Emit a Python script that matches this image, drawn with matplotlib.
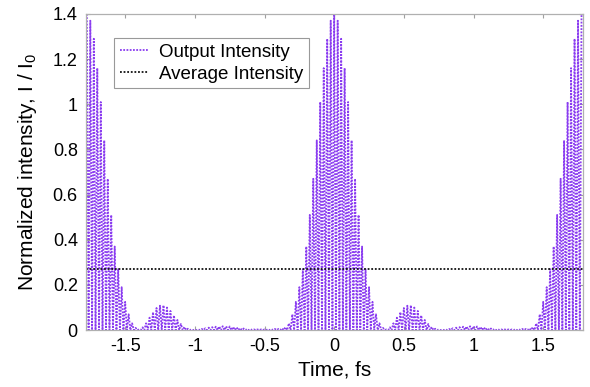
import matplotlib
matplotlib.use("Agg")
import matplotlib.pyplot as plt
import matplotlib.ticker as ticker
import numpy as np

plt.rcParams['font.family'] = ['Liberation Sans', 'DejaVu Sans']
plt.rcParams['mathtext.fontset'] = 'custom'
plt.rcParams['mathtext.rm'] = 'Liberation Sans'

### Data: peak height of each optical cycle (step 0.025 fs)
# from -1.775 fs up to 0 fs
intensity_left = [1.40, 1.37, 1.29, 1.16, 1.01, 0.84, 0.67, 0.51, 0.37, 0.27,
                  0.19, 0.125, 0.07, 0.03, 0.01, 0.003, 0.012, 0.03, 0.055, 0.08,
                  0.098, 0.108, 0.11, 0.10, 0.085, 0.065, 0.045, 0.027, 0.014, 0.006,
                  0.003, 0.002, 0.003, 0.005, 0.008, 0.011, 0.013, 0.015, 0.016, 0.017,
                  0.017, 0.016, 0.014, 0.012, 0.009, 0.007, 0.005, 0.004, 0.003, 0.003,
                  0.003, 0.003, 0.004, 0.004, 0.005, 0.005, 0.008, 0.013, 0.03, 0.07,
                  0.125, 0.19, 0.27, 0.37, 0.51, 0.67, 0.84, 1.01, 1.16, 1.29,
                  1.37, 1.40]
# from 0.025 fs up to 1.775 fs
intensity_right = [1.37, 1.29, 1.16, 1.01, 0.84, 0.67, 0.51, 0.37, 0.27,
                   0.19, 0.125, 0.07, 0.03, 0.01, 0.003, 0.012, 0.03, 0.055, 0.08,
                   0.098, 0.108, 0.11, 0.10, 0.085, 0.065, 0.045, 0.027, 0.014, 0.006,
                   0.003, 0.002, 0.003, 0.005, 0.008, 0.011, 0.013, 0.015, 0.016, 0.017,
                   0.017, 0.016, 0.014, 0.012, 0.009, 0.007, 0.005, 0.004, 0.003, 0.003,
                   0.003, 0.003, 0.004, 0.004, 0.005, 0.005, 0.008, 0.013, 0.03, 0.07,
                   0.125, 0.19, 0.27, 0.37, 0.51, 0.67, 0.84, 1.01, 1.16, 1.29,
                   1.37, 1.40]
averageIntensity = 0.27
xTicks = [-1.5, -1, -0.5, 0, 0.5, 1, 1.5]
yTicks = [0, 0.2, 0.4, 0.6, 0.8, 1, 1.2, 1.4]

peaks = np.array(intensity_left + intensity_right)
time = np.linspace(-1.775, 1.775, len(peaks))
halfCycle = (time[1] - time[0]) / 2

# each optical cycle goes from its peak down to zero
t = np.column_stack([time, time + halfCycle]).ravel()[:-1]
I = np.column_stack([peaks, np.zeros_like(peaks)]).ravel()[:-1]

fig = plt.figure(figsize=(5.90, 3.87), dpi=100)
ax = fig.add_axes([0.146, 0.147, 0.842, 0.817])

purple = '#8a3cf0'
ax.plot(t, I, color=purple, linestyle=(0, (1, 0.8)), linewidth=1.3, label='Output Intensity')
ax.axhline(averageIntensity, color='#111111', linestyle=(0, (1, 1)), linewidth=1.3,
           label='Average Intensity')

ax.set_xlim(-1.78, 1.785)
ax.set_ylim(0, 1.4)
ax.set_xticks(xTicks)
ax.set_yticks(yTicks)
fmt = ticker.FuncFormatter(lambda v, p: '%g' % v)
ax.xaxis.set_major_formatter(fmt)
ax.yaxis.set_major_formatter(fmt)
ax.tick_params(direction='in', length=3, width=0.8, color='#a0a0a0',
               top=True, right=True, labelsize=13, pad=6)
for s in ax.spines.values():
    s.set_color('#b0b0b0')
    s.set_linewidth(0.9)

ax.set_xlabel('Time, fs', fontsize=15, labelpad=4)
ax.set_ylabel(r'Normalized intensity, I / I$_\mathregular{0}$', fontsize=15, labelpad=10)

leg = ax.legend(loc='upper left', bbox_to_anchor=(0.056, 0.924), borderaxespad=0,
                fancybox=False, edgecolor='#808080', fontsize=13.5, handlelength=1.5,
                handletextpad=0.6, borderpad=0.3, labelspacing=0.25)
leg.get_frame().set_linewidth(0.8)

fig.savefig('out.png', dpi=100)
